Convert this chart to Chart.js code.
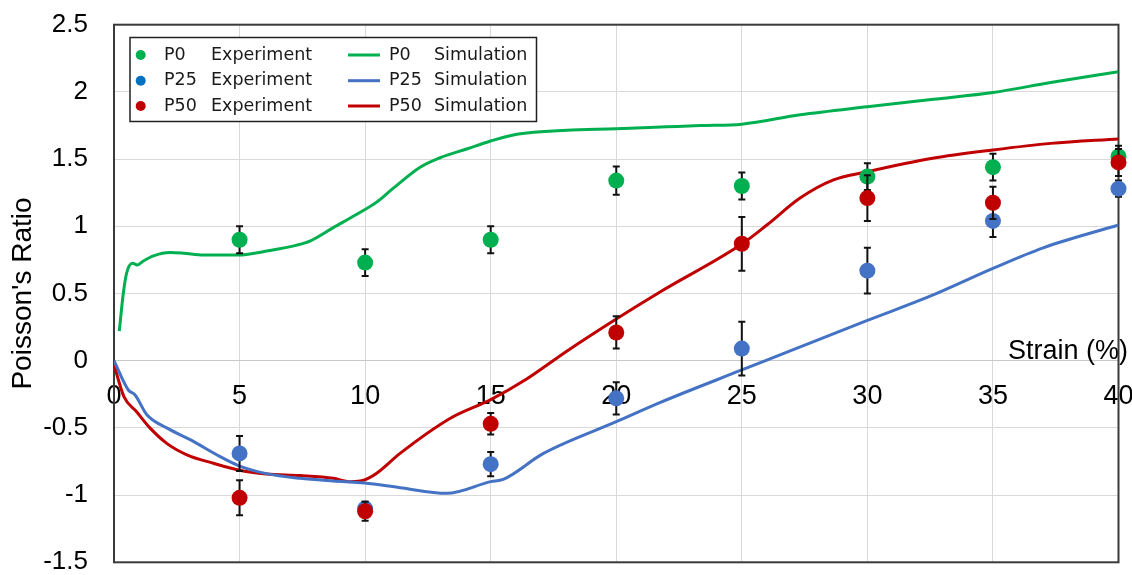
<!DOCTYPE html>
<html>
<head>
<meta charset="utf-8">
<script src="https://cdn.jsdelivr.net/npm/chart.js@4.4.1/dist/chart.umd.min.js"></script>
<style>
  html, body { margin: 0; padding: 0; background: #ffffff; }
  #wrap { width: 1132px; height: 575px; position: relative; }
</style>
</head>
<body>
<div id="wrap"><canvas id="chart" width="1132" height="575"></canvas></div>
<script>
// ---- measured values ----
const strainLevels = [5, 10, 15, 20, 25, 30, 35, 40];

const p0Exp  = [0.90, 0.73, 0.90, 1.34, 1.30, 1.37, 1.44, 1.52];
const p0Err  = [0.10, 0.10, 0.10, 0.105, 0.10, 0.10, 0.10, 0.08];
const p25Exp = [-0.69, -1.10, -0.77, -0.28, 0.09, 0.67, 1.04, 1.28];
const p25Err = [0.13, 0.05, 0.09, 0.12, 0.20, 0.17, 0.12, 0.06];
const p50Exp = [-1.02, -1.12, -0.47, 0.21, 0.87, 1.21, 1.175, 1.475];
const p50Err = [0.13, 0.07, 0.08, 0.12, 0.20, 0.17, 0.12, 0.10];

// simulated curves (strain %, Poisson's ratio)
const p0SimX = [0.21, 0.37, 0.5, 0.74, 0.93, 1.17, 1.57, 2.23, 2.76, 3.56, 4.95, 6.21, 7.28, 7.8, 8.73, 9.67, 10.46, 11.1, 12.19, 12.98, 14.04, 15.0, 16.04, 18.03, 20.0, 22.0, 23.34, 25.0, 27.32, 30.0, 32.63, 35.0, 37.3, 40.0];
const p0SimY = [0.22, 0.50, 0.65, 0.725, 0.712, 0.742, 0.78, 0.805, 0.80, 0.786, 0.786, 0.82, 0.86, 0.89, 0.99, 1.09, 1.18, 1.28, 1.44, 1.51, 1.575, 1.635, 1.685, 1.715, 1.725, 1.74, 1.75, 1.76, 1.83, 1.89, 1.945, 1.995, 2.07, 2.15];

const p25SimX = [0, 0.57, 0.84, 1.3, 2.1, 3.16, 4.09, 4.95, 6.07, 7.41, 8.73, 9.97, 11.39, 13.25, 15.0, 15.5, 17.1, 20.0, 21.76, 25.0, 30.0, 32.5, 35.0, 37.0, 40.0];
const p25SimY = [0, -0.218, -0.255, -0.40, -0.50, -0.60, -0.70, -0.78, -0.84, -0.875, -0.895, -0.91, -0.945, -0.987, -0.90, -0.883, -0.69, -0.454, -0.31, -0.069, 0.30, 0.48, 0.687, 0.84, 1.01];

const p50SimX = [0, 0.4, 0.9, 1.43, 2.1, 2.9, 3.96, 4.95, 6.07, 7.41, 8.73, 9.4, 9.97, 10.46, 11.39, 13.38, 15.0, 16.4, 18.0, 20.0, 21.76, 25.0, 26.0, 27.32, 28.65, 30.0, 32.6, 35.0, 37.3, 40.0];
const p50SimY = [-0.03, -0.27, -0.38, -0.50, -0.615, -0.70, -0.763, -0.813, -0.843, -0.855, -0.875, -0.90, -0.888, -0.838, -0.69, -0.43, -0.29, -0.14, 0.067, 0.31, 0.513, 0.868, 1.01, 1.21, 1.345, 1.406, 1.506, 1.568, 1.617, 1.65];

const xTickValues = [0, 5, 10, 15, 20, 25, 30, 35, 40];
const yTickValues = [-1.5, -1, -0.5, 0, 0.5, 1, 1.5, 2, 2.5];

const GREEN = '#00b050', BLUE = '#4472c4', RED = '#c00000';
const TICK_FONT = "'Liberation Sans', Arial, sans-serif";
const LEGEND_FONT = "'DejaVu Sans', sans-serif";

const toPoints = (xs, ys) => xs.map((x, i) => ({ x: x, y: ys[i] }));

function expDataset(label, values, errors, color, order) {
  return {
    type: 'scatter', label: label, data: toPoints(strainLevels, values), errors: errors,
    backgroundColor: color, borderColor: color, borderWidth: 0,
    pointRadius: 8, pointHoverRadius: 8, order: order, clip: false
  };
}
function simDataset(label, xs, ys, color) {
  return {
    type: 'line', label: label, data: toPoints(xs, ys),
    borderColor: color, backgroundColor: color, borderWidth: 3,
    pointRadius: 0, cubicInterpolationMode: 'monotone', fill: false, order: 10
  };
}

// error bars drawn just beneath each experimental series' markers
const errorBars = {
  id: 'errorBars',
  beforeDatasetDraw(chart, args) {
    const ds = chart.data.datasets[args.index];
    if (!ds.errors) return;
    const ctx = chart.ctx, ys = chart.scales.y;
    ctx.save();
    ctx.strokeStyle = '#111111';
    ctx.lineWidth = 2;
    args.meta.data.forEach((pt, i) => {
      const v = ds.data[i].y, e = ds.errors[i];
      const t = ys.getPixelForValue(v + e), b = ys.getPixelForValue(v - e);
      ctx.beginPath();
      ctx.moveTo(pt.x, t); ctx.lineTo(pt.x, b);
      ctx.moveTo(pt.x - 3.5, t); ctx.lineTo(pt.x + 3.5, t);
      ctx.moveTo(pt.x - 3.5, b); ctx.lineTo(pt.x + 3.5, b);
      ctx.stroke();
    });
    ctx.restore();
  }
};

// x-axis title beside the zero line and the dark plot frame
const frame = {
  id: 'frame',
  beforeDatasetsDraw(chart) {
    const { ctx, chartArea: a } = chart;
    const y0 = chart.scales.y.getPixelForValue(0);
    ctx.save();
    ctx.fillStyle = '#000000';
    ctx.font = "27px " + TICK_FONT;
    ctx.textAlign = 'right';
    ctx.textBaseline = 'alphabetic';
    ctx.fillText('Strain (%)', 1128, y0 - 2);
    ctx.strokeStyle = '#3a3a3a';
    ctx.lineWidth = 2;
    ctx.strokeRect(a.left, a.top, a.right - a.left, a.bottom - a.top);
    ctx.restore();
  }
};

// two-column legend box in the upper left of the plot
const boxLegend = {
  id: 'boxLegend',
  afterDraw(chart) {
    const ctx = chart.ctx;
    const rows = [55, 80.7, 106];
    const exp = [['P0', '#00b050'], ['P25', '#0070c0'], ['P50', '#c00000']];
    const sim = [['P0', GREEN], ['P25', BLUE], ['P50', RED]];
    ctx.save();
    ctx.fillStyle = '#ffffff';
    ctx.fillRect(130, 37.5, 406.5, 84);
    ctx.strokeStyle = '#222222';
    ctx.lineWidth = 1.5;
    ctx.strokeRect(130, 37.5, 406.5, 84);
    ctx.font = "17.5px " + LEGEND_FONT;
    ctx.textBaseline = 'middle';
    ctx.textAlign = 'left';
    rows.forEach((y, i) => {
      ctx.fillStyle = exp[i][1];
      ctx.beginPath(); ctx.arc(140.7, y, 5, 0, Math.PI * 2); ctx.fill();
      ctx.fillStyle = '#1a1a1a';
      ctx.fillText(exp[i][0], 164, y);
      ctx.fillText('Experiment', 211, y);
      ctx.strokeStyle = sim[i][1];
      ctx.lineWidth = 3;
      ctx.beginPath(); ctx.moveTo(348, y); ctx.lineTo(380, y); ctx.stroke();
      ctx.fillText(sim[i][0], 389, y);
      ctx.fillText('Simulation', 434, y);
    });
    ctx.restore();
  }
};

new Chart(document.getElementById('chart'), {
  data: {
    datasets: [
      expDataset('P0  Experiment', p0Exp, p0Err, GREEN, 3),
      expDataset('P25  Experiment', p25Exp, p25Err, BLUE, 2),
      expDataset('P50  Experiment', p50Exp, p50Err, RED, 1),
      simDataset('P0  Simulation', p0SimX, p0SimY, GREEN),
      simDataset('P25  Simulation', p25SimX, p25SimY, BLUE),
      simDataset('P50  Simulation', p50SimX, p50SimY, RED)
    ]
  },
  options: {
    responsive: false,
    devicePixelRatio: 1,
    animation: false,
    events: [],
    layout: { padding: { left: 0, right: 13.5, top: 24.7, bottom: 12.7 } },
    plugins: { legend: { display: false }, tooltip: { enabled: false } },
    scales: {
      x: {
        type: 'linear', min: 0, max: 40,
        position: { y: 0 },
        afterBuildTicks: s => { s.ticks = xTickValues.map(v => ({ value: v })); },
        afterFit: s => { s.paddingLeft = 0; s.paddingRight = 0; },
        grid: { color: '#d9d9d9', lineWidth: 1, drawTicks: false },
        border: { display: true, color: '#c8c8c8', width: 1 },
        ticks: { color: '#000000', font: { family: TICK_FONT, size: 27 }, padding: 20, maxRotation: 0, callback: v => String(v) }
      },
      y: {
        type: 'linear', min: -1.5, max: 2.5,
        afterBuildTicks: s => { s.ticks = yTickValues.map(v => ({ value: v })); },
        afterFit: s => { s.width = 114; s.paddingTop = 0; s.paddingBottom = 0; },
        grid: { color: '#d9d9d9', lineWidth: 1, drawTicks: false },
        border: { display: true, color: '#3a3a3a', width: 2 },
        ticks: { color: '#000000', font: { family: TICK_FONT, size: 26 }, padding: 26, callback: v => String(v) },
        title: { display: true, text: "Poisson's Ratio", color: '#000000', font: { family: TICK_FONT, size: 28 }, padding: { top: 6, bottom: 0 } }
      }
    }
  },
  plugins: [errorBars, frame, boxLegend]
});
</script>
</body>
</html>
